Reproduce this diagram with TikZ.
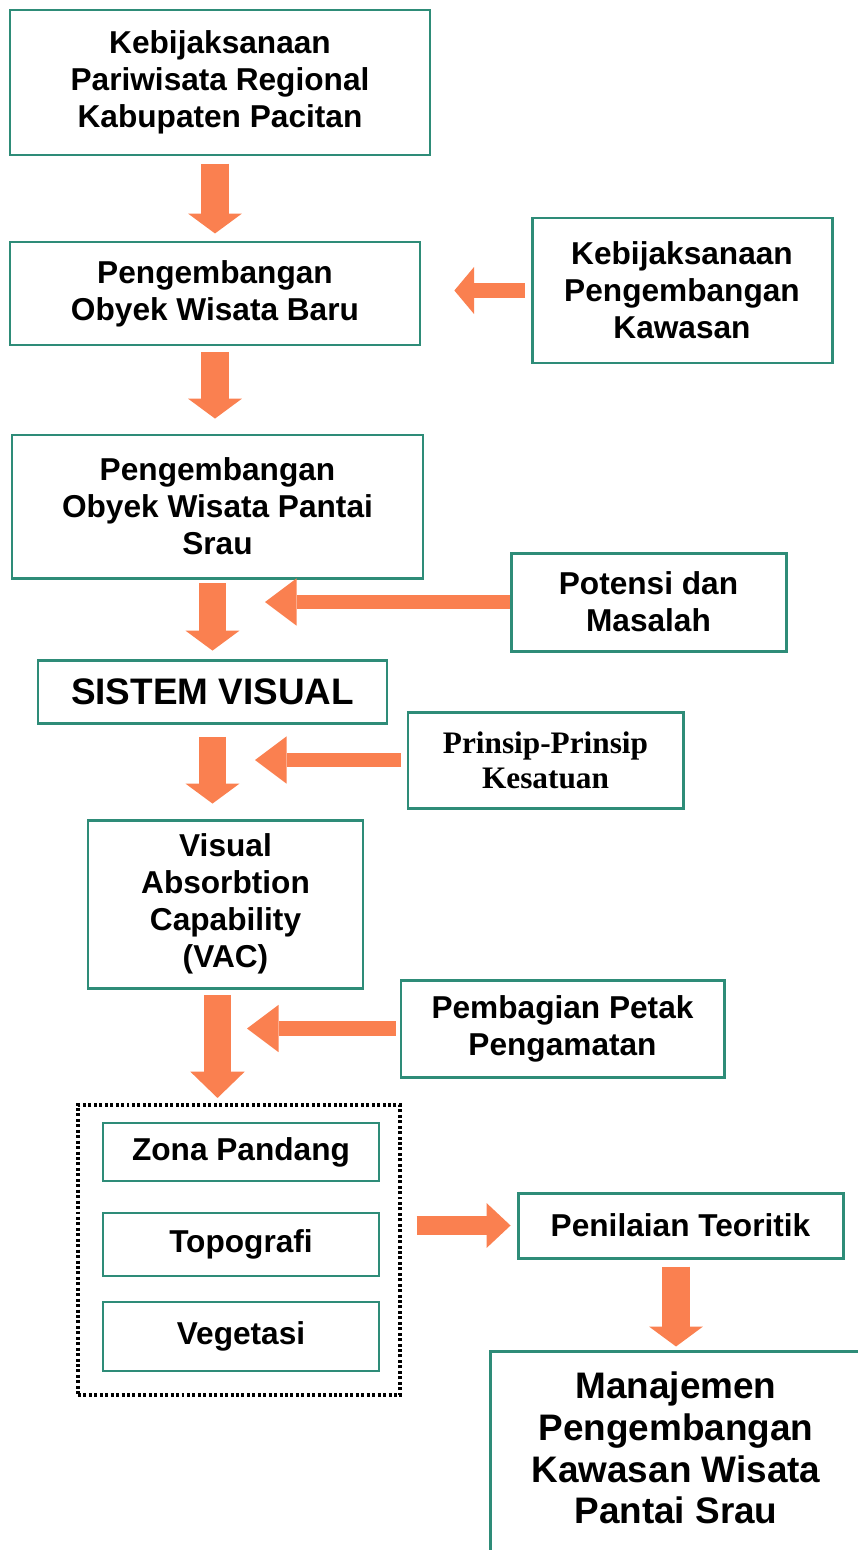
\documentclass[tikz,border=0pt]{standalone}
\usepackage{fontspec}
\setmainfont{Liberation Sans}
\newfontfamily\timesfam{Liberation Serif}
\usepackage{tikz}
\usetikzlibrary{positioning,arrows.meta,calc}
\definecolor{boxteal}{RGB}{46,140,120}
\definecolor{arrorange}{RGB}{250,128,80}

\begin{document}
\begin{tikzpicture}[
  box/.style={rectangle, draw=boxteal, line width=1.7pt, fill=white, align=center, inner sep=2pt, font={\fontsize{18}{21}\selectfont\bfseries}},
  subbox/.style={box, line width=1.1pt},
  bigtext/.style={font={\fontsize{21}{24}\selectfont\bfseries}},
  groupbox/.style={rectangle, draw=black, line width=2pt, dash pattern=on 1.7pt off 1.4pt},
  downarr/.style={draw=arrorange, line width=15.9pt, -{Triangle[width=30.6pt,length=11.3pt,line width=0pt]}},
  sidearr/.style={draw=arrorange, line width=8.5pt, -{Triangle[width=27pt,length=18pt,line width=0pt]}}
]
\useasboundingbox (0,0) rectangle (17.14,-31.00);
\node[box, minimum width=8.40cm, minimum height=2.90cm] (kebreg) at (4.40,-1.65) {Kebijaksanaan\\Pariwisata Regional\\Kabupaten Pacitan};
\node[box, minimum width=8.20cm, minimum height=2.06cm] (owbaru) at (4.30,-5.87) {Pengembangan\\Obyek Wisata Baru};
\node[box, minimum width=6.00cm, minimum height=2.90cm] (kebkaw) at (13.64,-5.81) {Kebijaksanaan\\Pengembangan\\Kawasan};
\node[box, minimum width=8.22cm, minimum height=2.86cm] (owsrau) at (4.35,-10.13) {Pengembangan\\Obyek Wisata Pantai\\Srau};
\node[box, minimum width=5.50cm, minimum height=1.96cm] (potensi) at (12.97,-12.04) {Potensi dan\\Masalah};
\node[box, bigtext, minimum width=6.98cm, minimum height=1.26cm] (sisvis) at (4.25,-13.83) {SISTEM VISUAL};
\node[box, minimum width=5.50cm, minimum height=1.92cm, font={\fontsize{17.8}{19.8}\selectfont\timesfam\bfseries}] (prinsip) at (10.91,-15.20) {Prinsip-Prinsip\\Kesatuan};
\node[box, minimum width=5.50cm, minimum height=3.36cm] (vac) at (4.51,-18.08) {Visual\\Absorbtion\\Capability\\(VAC)};
\node[box, minimum width=6.46cm, minimum height=1.94cm] (petak) at (11.25,-20.57) {Pembagian Petak\\Pengamatan};
\node[groupbox, minimum width=6.44cm, minimum height=5.80cm] (faktor) at (4.78,-25.00) {};
\node[subbox, minimum width=5.52cm, minimum height=1.16cm] (zona) at (4.82,-23.04) {Zona Pandang};
\node[subbox, minimum width=5.52cm, minimum height=1.26cm] (topo) at (4.82,-24.89) {Topografi};
\node[subbox, minimum width=5.52cm, minimum height=1.38cm] (veget) at (4.82,-26.73) {Vegetasi};
\node[box, minimum width=6.50cm, minimum height=1.30cm] (nilai) at (13.61,-24.51) {Penilaian Teoritik};
\node[box, anchor=north west, minimum width=8.00cm, minimum height=5.40cm] (manaj) at (9.78,-27.00) {};
\node[bigtext, align=center, font={\fontsize{21}{23.8}\selectfont\bfseries}] (manajtxt) at (13.52,-28.96) {Manajemen\\Pengembangan\\Kawasan Wisata\\Pantai Srau};
\coordinate (potip) at (5.30,-12.04);
\coordinate (prtip) at (5.10,-15.20);
\coordinate (pttip) at (4.94,-20.57);
\coordinate (vacout) at (4.35,-19.76);
\draw[downarr, shorten <=4pt, shorten >=4pt] (owbaru.north |- kebreg.south) -- (owbaru.north);
\draw[downarr, shorten <=3pt, shorten >=8.5pt] (owbaru.south) -- (owbaru.south |- owsrau.north);
\draw[downarr, shorten <=2pt, shorten >=4.5pt] (sisvis.north |- owsrau.south) -- (sisvis.north);
\draw[downarr, shorten <=7pt, shorten >=8.5pt] (sisvis.south) -- (sisvis.south |- vac.north);
\draw[downarr, -{Triangle[width=31pt,length=15pt,line width=0pt]}, shorten <=4pt, shorten >=3pt] (vacout) -- (vacout |- faktor.north);
\draw[downarr, shorten <=4pt, shorten >=2pt] (manajtxt |- nilai.south) -- (manajtxt |- manaj.north);
\draw[sidearr, -{Triangle[width=27pt,length=11.3pt,line width=0pt]}, shorten <=3pt, shorten >=18.7pt] (kebkaw.west) -- (owbaru.east |- kebkaw.west);
\draw[sidearr] (potensi.west) -- (potip);
\draw[sidearr, shorten <=3pt] (prinsip.west) -- (prtip);
\draw[sidearr, shorten <=2pt] (petak.west) -- (pttip);
\draw[sidearr, line width=11.3pt, -{Triangle[width=25.5pt,length=13.6pt,line width=0pt]}, shorten <=8.5pt, shorten >=3.4pt] (faktor.east |- nilai.west) -- (nilai.west);
\end{tikzpicture}
\end{document}
